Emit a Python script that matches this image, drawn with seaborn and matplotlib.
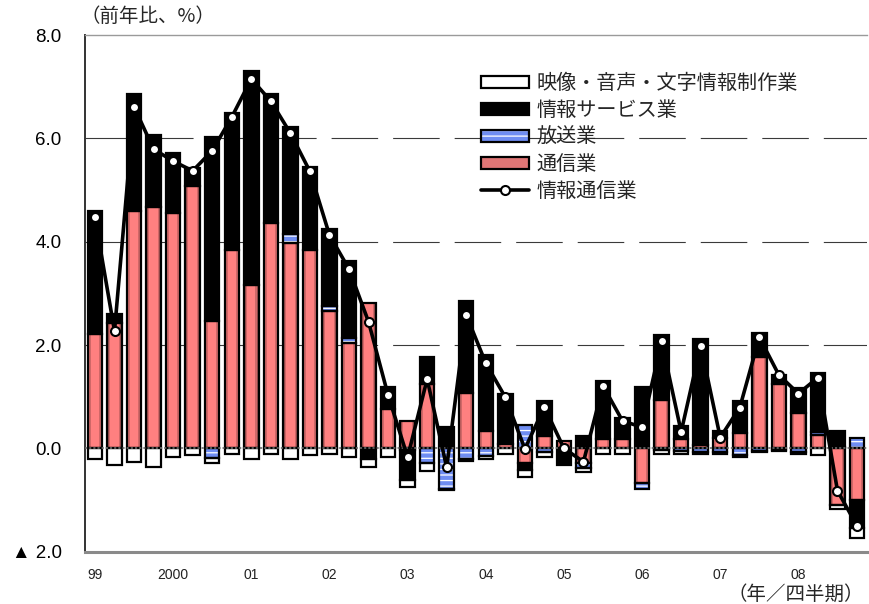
import numpy as np
import pandas as pd
import matplotlib
matplotlib.use("Agg")
import matplotlib.pyplot as plt
from matplotlib.patches import Patch
from matplotlib.lines import Line2D
import seaborn as sns

# ---------------- data (前年比, %) 1999Q1 - 2008Q4 ----------------
quarters = [f"{y}Q{q}" for y in range(1999, 2009) for q in range(1, 5)]
year_labels = ["99", "2000", "01", "02", "03", "04", "05", "06", "07", "08"]

tsushin = [2.21, 2.43, 4.60, 4.68, 4.56, 5.07, 2.47, 3.83, 3.16, 4.37,
           3.97, 3.83, 2.66, 2.04, 2.81, 0.77, 0.52, 1.25, 0.00, 1.08,
           0.34, 0.08, -0.28, 0.23, 0.15, -0.28, 0.19, 0.19, -0.68, 0.93,
           0.19, 0.07, 0.21, 0.30, 1.77, 1.24, 0.69, 0.25, -1.10, -1.00]
hoso = [0.00, 0.00, 0.00, 0.00, 0.00, 0.00, -0.18, 0.00, 0.00, 0.00,
        0.17, 0.00, 0.09, 0.10, 0.00, 0.00, -0.04, -0.29, -0.79, -0.20,
        -0.15, 0.00, 0.45, -0.08, 0.00, -0.10, 0.00, 0.00, -0.11, -0.03,
        -0.06, -0.08, -0.07, -0.12, -0.06, -0.03, -0.08, 0.06, 0.03, 0.21]
joho_service = [2.39, 0.18, 2.25, 1.39, 1.16, 0.35, 3.56, 2.67, 4.14, 2.48,
                2.08, 1.62, 1.50, 1.49, -0.21, 0.42, -0.57, 0.52, 0.41, 1.77,
                1.47, 0.98, -0.14, 0.69, -0.32, 0.23, 1.11, 0.39, 1.18, 1.26,
                0.25, 2.04, 0.12, 0.62, 0.46, 0.18, 0.47, 1.15, 0.31, -0.55]
eizo = [-0.21, -0.32, -0.26, -0.37, -0.17, -0.13, -0.11, -0.10, -0.21, -0.10,
        -0.21, -0.13, -0.10, -0.17, -0.16, -0.17, -0.14, -0.15, -0.02, -0.04,
        -0.05, -0.10, -0.13, -0.09, 0.00, -0.08, -0.10, -0.10, 0.00, -0.07,
        -0.05, -0.03, -0.04, -0.04, -0.02, -0.02, -0.02, -0.13, -0.08, -0.18]
joho_tsushin = [4.47, 2.27, 6.61, 5.79, 5.56, 5.37, 5.76, 6.41, 7.15, 6.72,
                6.10, 5.36, 4.13, 3.47, 2.45, 1.03, -0.17, 1.34, -0.37, 2.58,
                1.65, 0.99, -0.01, 0.80, 0.00, -0.26, 1.21, 0.53, 0.41, 2.07,
                0.32, 1.99, 0.21, 0.79, 2.15, 1.42, 1.06, 1.37, -0.82, -1.50]

df = pd.DataFrame({"q": quarters, "通信業": tsushin, "放送業": hoso,
                   "情報サービス業": joho_service, "映像・音声・文字情報制作業": eizo,
                   "情報通信業": joho_tsushin})
df["x"] = np.arange(len(df))

# ---------------- style ----------------
sns.set_theme(style="white")
plt.rcParams["font.family"] = ["Noto Sans CJK JP", "DejaVu Sans"]
plt.rcParams["lines.scale_dashes"] = False
plt.rcParams["hatch.linewidth"] = 0.9

W, H, DPI = 869, 604, 100
fig = plt.figure(figsize=(W / DPI, H / DPI), dpi=DPI)
ax = fig.add_axes([85.2 / W, 1 - 551.7 / H, (866.8 - 85.2) / W, (551.7 - 35) / H])

x = df["x"].to_numpy()
BW = 0.74
BLUE = "#6F8DF2"
order = ["通信業", "放送業", "情報サービス業", "映像・音声・文字情報制作業"]
pos_base = np.zeros(len(df))
neg_base = np.zeros(len(df))
segs = {}
for name in order:
    v = df[name].to_numpy()
    bottom = np.where(v >= 0, pos_base, neg_base)
    segs[name] = (v, bottom)
    pos_base = pos_base + np.where(v > 0, v, 0)
    neg_base = neg_base + np.where(v < 0, v, 0)

# grid lines (long dashes)
for gy in [2, 4, 6]:
    ax.axhline(gy, color="#3a3a3a", lw=0.8, dashes=(33.5, 10.8), zorder=0.5)

def fill(name, width, **kw):
    v, b = segs[name]
    ax.bar(x, v, width=width, bottom=b, linewidth=0, zorder=2, **kw)

# 通信業: pink with darker edges (pseudo gradient)
fill("通信業", BW, color="#9E4E4E")
fill("通信業", BW * 0.80, color="#D06868")
fill("通信業", BW * 0.58, color="#FF8080")
# 放送業: blue with white horizontal stripes
fill("放送業", BW, facecolor=BLUE, edgecolor="white", hatch="---")
# 情報サービス業
fill("情報サービス業", BW, color="black")
# 映像・音声・文字情報制作業
fill("映像・音声・文字情報制作業", BW, color="white")

# outlines for every non-zero segment
for name in order:
    v, b = segs[name]
    m = v != 0
    ax.bar(x[m], v[m], width=BW, bottom=b[m], facecolor="none",
           edgecolor="black", linewidth=1.6, zorder=3)

# zero line
ax.axhline(0, color="#6a6a6a", lw=1.2, dashes=(1.5, 1.5), zorder=3.5)

# 情報通信業 line
sns.lineplot(data=df, x="x", y="情報通信業", ax=ax, color="black", lw=2.6,
             marker="o", markersize=6.5, markerfacecolor="white",
             markeredgecolor="black", markeredgewidth=1.5, zorder=5)

# axes
ax.set_xlim(-0.5, len(df) - 0.5)
ax.set_ylim(-2, 8)
ax.set_xlabel("")
ax.set_ylabel("")
ax.set_xticks(np.arange(0, len(df), 4))
ax.set_xticklabels(year_labels, family=["Liberation Sans", "DejaVu Sans"], fontsize=10)
ax.set_yticks([-2, 0, 2, 4, 6, 8])
ax.set_yticklabels(["▲ 2.0", "0.0", "2.0", "4.0", "6.0", "8.0"],
                   family=["Liberation Sans", "Noto Sans CJK JP", "DejaVu Sans"],
                   fontsize=13.5)
ax.tick_params(axis="x", length=0, pad=12, colors="#222222")
ax.tick_params(axis="y", length=3, width=1, direction="out", pad=14, colors="black")
ax.yaxis.set_tick_params(color="#333333")

ax.spines["right"].set_visible(False)
ax.spines["top"].set_color("#9a9a9a")
ax.spines["top"].set_linewidth(1.0)
ax.spines["bottom"].set_color("#8a8a8a")
ax.spines["bottom"].set_linewidth(2.2)
ax.spines["left"].set_color("#333333")
ax.spines["left"].set_linewidth(1.4)

# legend
handles = [
    Patch(facecolor="white", edgecolor="black", linewidth=1.6),
    Patch(facecolor="black", edgecolor="black", linewidth=1.6),
    (Patch(facecolor=BLUE, edgecolor="white", hatch="---", linewidth=0),
     Patch(facecolor="none", edgecolor="black", linewidth=1.6)),
    Patch(facecolor="#E07676", edgecolor="black", linewidth=1.6),
    Line2D([], [], color="black", lw=2.6, marker="o", markersize=6.5,
           markerfacecolor="white", markeredgecolor="black", markeredgewidth=1.5),
]
labels = ["映像・音声・文字情報制作業", "情報サービス業", "放送業", "通信業", "情報通信業"]
leg = fig.legend(handles, labels, loc="upper left",
                 bbox_to_anchor=(481 / W, 1 - 73 / H), frameon=False,
                 fontsize=14.5, handlelength=2.4, handleheight=0.6,
                 handletextpad=0.35, labelspacing=0.3, borderpad=0,
                 borderaxespad=0)

# unit labels
fig.text(80 / W, 1 - 16 / H, "（前年比、%）", fontsize=14, ha="left", va="center")
fig.text(864 / W, 1 - 594 / H, "（年／四半期）", fontsize=14, ha="right", va="center")

fig.savefig("out.png", dpi=DPI)
